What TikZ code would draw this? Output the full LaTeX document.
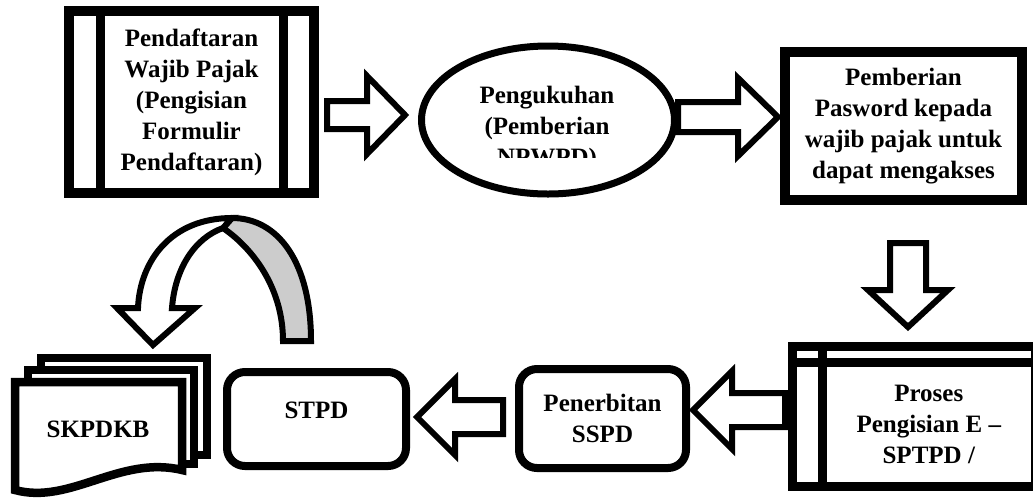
\documentclass[tikz,border=0pt]{standalone}
\usepackage{fontspec}
\setmainfont{Liberation Serif}
\usetikzlibrary{shapes.geometric}

\tikzset{
  pics/fatarrow/.style args={#1/#2/#3/#4}{code={
    \draw[fat] (0,0) -- (-#4,-#3) -- (-#4,-#2) -- (-#1,-#2) -- (-#1,#2) -- (-#4,#2) -- (-#4,#3) -- cycle;
  }}
}

\begin{document}
\begin{tikzpicture}[x=0.5pt,y=-0.5pt,
    font=\bfseries\fontsize{12.5}{15.5}\selectfont,
    box/.style={draw,line width=4.75pt,align=center,inner sep=0pt,outer sep=0pt},
    rbox/.style={draw,line width=4pt,rounded corners=9pt,align=center,inner sep=0pt},
    fat/.style={draw,line width=3pt,fill=white,line join=miter},
    sheet/.style={draw,line width=4.25pt,fill=white,line join=miter}]
  \clip (0,0) rectangle (1033,499);
  \fill[white] (0,0) rectangle (1033,499);

  % top row
  \node[box,minimum width=122.5pt,minimum height=91pt] (daftar) at (191.5,102)
    {Pendaftaran\\Wajib Pajak\\(Pengisian\\Formulir\\Pendaftaran)};
  \draw[line width=4.5pt] ([xshift=15.5pt]daftar.north west) -- ([xshift=15.5pt]daftar.south west);
  \draw[line width=4.5pt] ([xshift=-15.5pt]daftar.north east) -- ([xshift=-15.5pt]daftar.south east);

  \node[draw,ellipse,line width=3.5pt,minimum width=126.5pt,minimum height=74pt] (kukuh) at (548,120) {};
  \begin{scope}
    \clip (420,40) rectangle (680,157);
    \node[align=center] (kukuhteks) at (547,128) {Pengukuhan\\(Pemberian\\NPWPD)};
  \end{scope}

  \node[box,minimum width=118.5pt,minimum height=74pt] (pasword) at (903.5,126)
    {Pemberian\\Pasword kepada\\wajib pajak untuk\\dapat mengakses};

  \pic at (405,115) {fatarrow=78/14/39/38};
  \pic at (778,117) {fatarrow=100/15/39/40};
  \pic[rotate=-90] at (908,327) {fatarrow=84/18/40/37};

  % bottom row
  \node[box,line width=4.5pt,minimum width=106.25pt,minimum height=61.75pt]
    (proses) at (928.75,424.25) {Proses\\Pengisian E --\\SPTPD /};
  \draw[line width=4.5pt] (792,346) rectangle (proses.south east);
  \draw[line width=4.5pt] (proses.north west) -- ++(0,-17);
  \draw[line width=4.5pt] (proses.north west) -- ++(-31,0);

  \node[rbox,minimum width=83.5pt,minimum height=49.5pt] (sspd) at (602.5,418.5) {Penerbitan\\SSPD};
  \node[rbox,minimum width=89.5pt,minimum height=47pt,text height=4pt,text depth=5pt] (stpd) at (316.5,419) {STPD};

  \pic[rotate=180] at (693,410) {fatarrow=92/17/39/39};
  \pic[rotate=180] at (417,417) {fatarrow=86/17/38/38};

  % stacked documents
  \draw[sheet] (41,358) rectangle (207,455);
  \draw[sheet] (28,370) rectangle (194,464);
  \draw[sheet] (15,382) -- (182,382) -- (182,470) .. controls (120,455) and (70,505) .. (15,490) -- cycle;
  \node[anchor=base] (skpdkb) at (98,437) {SKPDKB};

  % curved arrow
  \filldraw[fat,fill=gray!40] (311,341) .. controls (311,262) and (278,218) .. (232,218)
    -- (223,228) .. controls (255,250) and (283,290) .. (283,341) -- cycle;
  \filldraw[fat] (232,218) .. controls (172,218) and (140,260) .. (138,308) -- (117,308) -- (153,345)
    -- (195,308) -- (172,308) .. controls (175,268) and (195,238) .. (223,228) -- cycle;
\end{tikzpicture}
\end{document}
